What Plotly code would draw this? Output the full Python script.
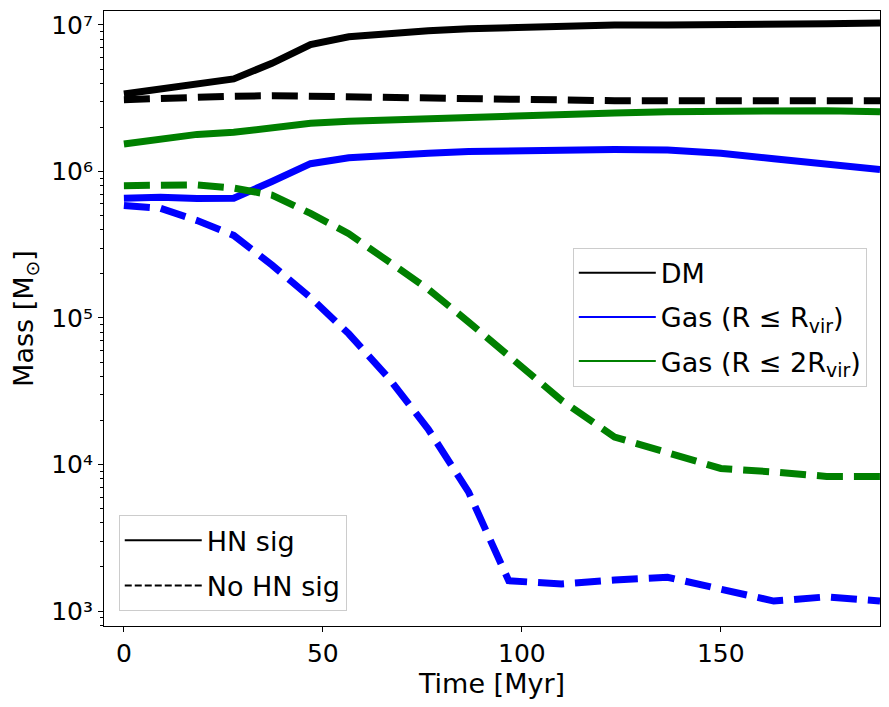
"""Halo mass evolution: DM and gas mass with and without the HN signal."""

import plotly.graph_objects as go

# snapshot times [Myr]
TIME = [0, 9.2, 18.4, 27.6, 37.2, 46.9, 56.5, 66.5, 76.5, 86.6, 96.7,
        110, 123.3, 136.6, 150, 163.3, 176.6, 190]

# HN sig run
DM_HN = [3.38e6, 3.63e6, 3.91e6, 4.28e6, 5.47e6, 7.33e6, 8.31e6, 8.81e6, 9.12e6,
         9.43e6, 9.62e6, 9.83e6, 9.98e6, 1.0e7, 1.0e7, 1.003e7, 1.02e7, 1.03e7]
GAS_RVIR_HN = [6.56e5, 6.66e5, 6.53e5, 6.56e5, 8.53e5, 1.13e6, 1.24e6, 1.30e6, 1.33e6,
               1.37e6, 1.39e6, 1.40e6, 1.41e6, 1.40e6, 1.33e6, 1.22e6, 1.13e6, 1.03e6]
GAS_2RVIR_HN = [1.54e6, 1.68e6, 1.79e6, 1.85e6, 1.97e6, 2.13e6, 2.20e6, 2.25e6, 2.28e6,
                2.32e6, 2.37e6, 2.44e6, 2.51e6, 2.56e6, 2.59e6, 2.60e6, 2.60e6, 2.56e6]

# No HN sig run
DM_NOHN = [3.09e6, 3.16e6, 3.21e6, 3.26e6, 3.29e6, 3.26e6, 3.21e6, 3.18e6, 3.13e6,
           3.09e6, 3.08e6, 3.06e6, 3.04e6, 3.04e6, 3.04e6, 3.04e6, 3.04e6, 3.04e6]
GAS_RVIR_NOHN = [5.86e5, 5.6e5, 4.62e5, 3.66e5, 2.3e5, 1.38e5, 7.8e4, 3.9e4, 1.74e4,
                 6.5e3, 1.61e3, 1.53e3, 1.63e3, 1.70e3, 1.41e3, 1.17e3, 1.25e3, 1.17e3]
GAS_2RVIR_NOHN = [8.0e5, 8.1e5, 8.1e5, 7.7e5, 6.9e5, 5.17e5, 3.76e5, 2.43e5, 1.57e5,
                  9.4e4, 5.56e4, 2.74e4, 1.54e4, 1.2e4, 9.4e3, 8.9e3, 8.3e3, 8.3e3]

COMPONENTS = ["DM", "Gas (R ≤ R<sub>vir</sub>)", "Gas (R ≤ 2R<sub>vir</sub>)"]
COLORS = ["black", "#0000ff", "#008000"]
RUNS = ["HN sig", "No HN sig"]

X_TICKS = [0, 50, 100, 150]
Y_TICKS = [1e3, 1e4, 1e5, 1e6, 1e7]
Y_TICK_TEXT = ["10³", "10⁴", "10⁵", "10⁶", "10⁷"]

FONT = dict(family="DejaVu Sans", size=27, color="black")
TICK_FONT = dict(family="DejaVu Sans", size=25, color="black")


def add_run(fig, series, dash):
    for values, color in zip(series, COLORS):
        fig.add_trace(go.Scatter(x=TIME, y=values, mode="lines", showlegend=False,
                                 line=dict(color=color, width=7, dash=dash)))


fig = go.Figure()
add_run(fig, [DM_HN, GAS_RVIR_HN, GAS_2RVIR_HN], "solid")
add_run(fig, [DM_NOHN, GAS_RVIR_NOHN, GAS_2RVIR_NOHN], "26px,11px")

# legend-only handles
for name, color in zip(COMPONENTS, COLORS):
    fig.add_trace(go.Scatter(x=[None], y=[None], mode="lines", name=name, legend="legend",
                             legendgroup=name, line=dict(color=color, width=2)))
for name, dash in zip(RUNS, ["solid", "7px,3px"]):
    fig.add_trace(go.Scatter(x=[None], y=[None], mode="lines", name=name, legend="legend2",
                             legendgroup=name, line=dict(color="black", width=2, dash=dash)))

legend_style = dict(bgcolor="rgba(255,255,255,0.8)", bordercolor="#cccccc", borderwidth=1,
                    font=FONT, itemwidth=77)
# the page body adds an 8px offset, so the figure is 8px smaller on each side
fig.update_layout(
    width=881, height=699, font=FONT,
    plot_bgcolor="white", paper_bgcolor="white",
    margin=dict(l=96, r=9, t=3, b=81),
    legend=dict(x=0.983, y=0.615, xanchor="right", yanchor="top", tracegroupgap=6,
                **legend_style),
    legend2=dict(x=0.019, y=0.024, xanchor="left", yanchor="bottom", tracegroupgap=7,
                 **legend_style),
)
fig.update_xaxes(range=[-5, 190], tickvals=X_TICKS, title_text="Time [Myr]",
                 tickfont=TICK_FONT, title_font=FONT, automargin=False,
                 ticklabeloverflow="allow",
                 showline=True, mirror=True, linecolor="black", linewidth=1,
                 ticks="outside", ticklen=5, tickwidth=1, tickcolor="black",
                 showgrid=False, zeroline=False, title_standoff=6)
fig.update_yaxes(type="log", range=[2.898, 7.095], tickvals=Y_TICKS, ticktext=Y_TICK_TEXT,
                 title_text="Mass [M<sub>⊙</sub>]",
                 tickfont=TICK_FONT, title_font=FONT, automargin=False,
                 ticklabeloverflow="allow",
                 showline=True, mirror=True, linecolor="black", linewidth=1,
                 ticks="outside", ticklen=5, tickwidth=1, tickcolor="black",
                 showgrid=False, zeroline=False,
                 minor=dict(ticks="outside", ticklen=3, tickwidth=0.8, tickcolor="black",
                            dtick="D1", showgrid=False),
                 title_standoff=18)

fig.write_html("out.html")
